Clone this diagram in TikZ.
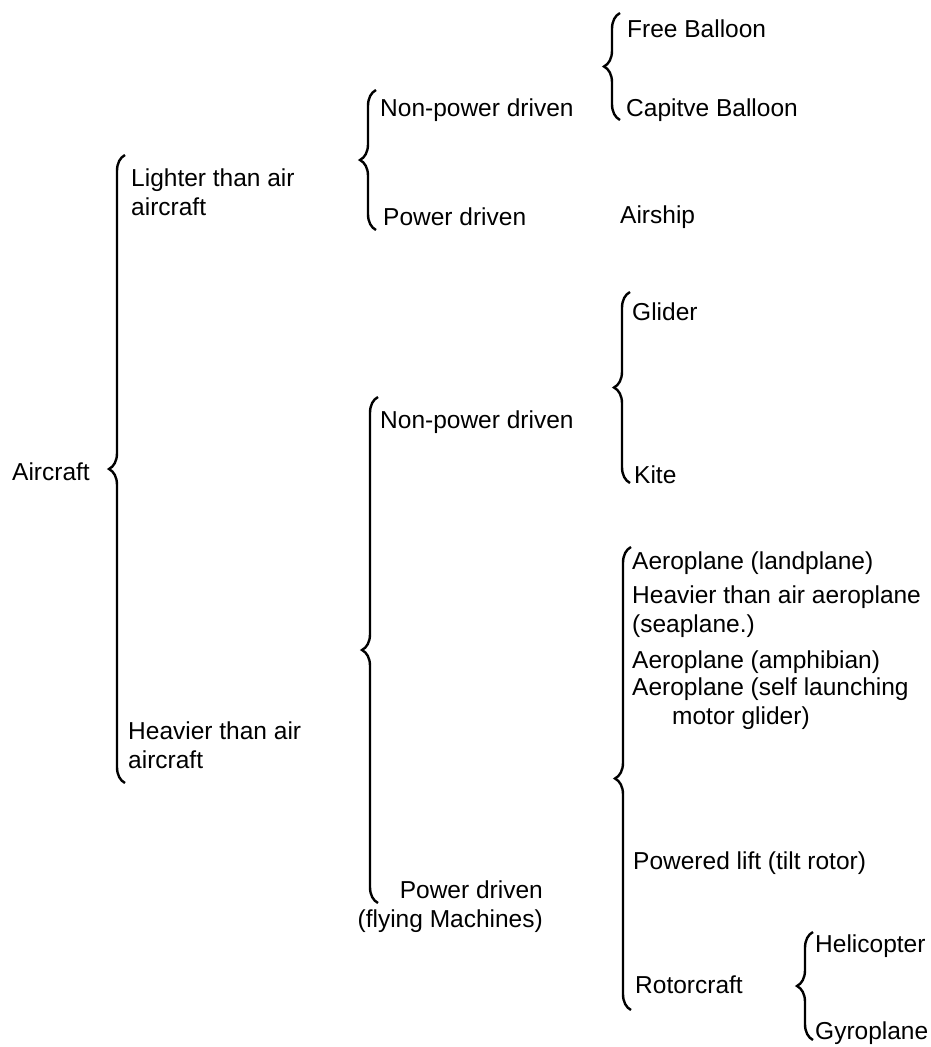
\documentclass[tikz,border=0pt]{standalone}
\usepackage{fontspec}
\setmainfont{Liberation Sans}
\usetikzlibrary{decorations.pathreplacing}
\begin{document}
\begin{tikzpicture}[x=1bp,y=-1bp,
    lbl/.style={anchor=west,inner sep=0pt,align=left,font=\fontsize{24.5bp}{29bp}\selectfont},
    brc/.style={decorate,decoration={brace,amplitude=16bp},line width=2.4bp}]
\useasboundingbox (0,0) rectangle (931,1047);
\node[lbl] (aircraft) at (12,472) {Aircraft};
\node[lbl] (lighter) at (131,192) {Lighter than air\\aircraft};
\node[lbl] (heavier) at (128,745) {Heavier than air\\aircraft};
\node[lbl] (lnp) at (380,110) {Non-power driven};
\node[lbl] (lpd) at (383,217) {Power driven};
\node[lbl] (free) at (627,29) {Free Balloon};
\node[lbl] (capt) at (626,110) {Capitve Balloon};
\node[lbl] (airship) at (620,217) {Airship};
\node[lbl] (hnp) at (380,422) {Non-power driven};
\node[lbl,anchor=east,align=right] (hpd) at (543,907) {Power driven\\(flying Machines)};
\node[lbl] (glider) at (632,312) {Glider};
\node[lbl] (kite) at (634,475) {Kite};
\node[lbl] (land) at (632,563) {Aeroplane (landplane)};
\node[lbl] (sea) at (632,612) {Heavier than air aeroplane\\(seaplane.)};
\node[lbl] (amph) at (632,662) {Aeroplane (amphibian)};
\node[lbl] (self) at (632,704) {Aeroplane (self launching\\\hspace*{40bp}motor glider)};
\node[lbl] (tilt) at (633,863) {Powered lift (tilt rotor)};
\node[lbl] (rotor) at (635,985) {Rotorcraft};
\node[lbl] (heli) at (815,946) {Helicopter};
\node[lbl] (gyro) at (815,1033) {Gyroplane};
\coordinate (b1t) at (125,155); \coordinate (b1b) at (125,783);
\coordinate (b2t) at (376,90);  \coordinate (b2b) at (376,230);
\coordinate (b3t) at (620,13);  \coordinate (b3b) at (620,120);
\coordinate (b4t) at (378,397); \coordinate (b4b) at (378,903);
\coordinate (b5t) at (630,292); \coordinate (b5b) at (630,483);
\coordinate (b6t) at (631,547); \coordinate (b6b) at (631,1010);
\coordinate (b7t) at (813,932); \coordinate (b7b) at (813,1040);
\draw[brc] (b1b) -- (b1t);
\draw[brc] (b2b) -- (b2t);
\draw[brc] (b3b) -- (b3t);
\draw[brc] (b4b) -- (b4t);
\draw[brc] (b5b) -- (b5t);
\draw[brc] (b6b) -- (b6t);
\draw[brc] (b7b) -- (b7t);
\end{tikzpicture}
\end{document}
